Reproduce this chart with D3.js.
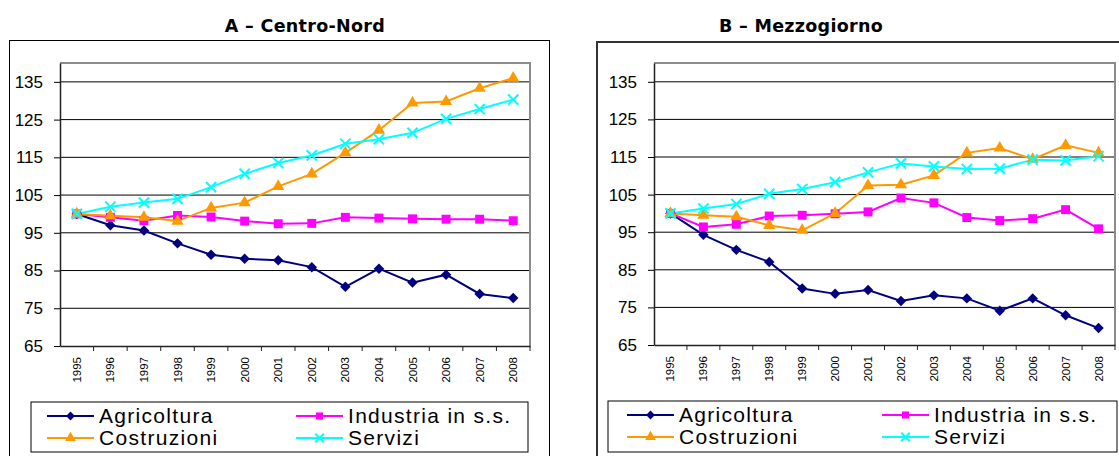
<!DOCTYPE html>
<html>
<head>
<meta charset="utf-8">
<script src="https://cdn.jsdelivr.net/npm/d3@7"></script>
<style>
  html, body { margin: 0; padding: 0; background: #fff; }
  svg { display: block; }
</style>
</head>
<body>
<svg id="chart" width="1119" height="456"></svg>
<script>
// Indici 1995 = 100, due pannelli affiancati (Centro-Nord, Mezzogiorno).
const years = ['1995', '1996', '1997', '1998', '1999', '2000', '2001',
               '2002', '2003', '2004', '2005', '2006', '2007', '2008'];
const yTicks = [65, 75, 85, 95, 105, 115, 125, 135];
const seriesNames = ['Agricoltura', 'Industria in s.s.', 'Costruzioni', 'Servizi'];

const nordAgricoltura = [100, 97.0, 95.6, 92.2, 89.2, 88.1, 87.7, 85.9, 80.7, 85.5, 81.8, 83.9, 78.8, 77.7];
const nordIndustria   = [100, 99.1, 98.2, 99.6, 99.2, 98.1, 97.4, 97.5, 99.1, 98.9, 98.7, 98.6, 98.6, 98.2];
const nordCostruzioni = [100, 99.5, 99.1, 98.1, 101.6, 103.0, 107.3, 110.6, 116.2, 122.2, 129.4, 129.8, 133.3, 136.0];
const nordServizi     = [100, 101.9, 103.0, 104.0, 107.1, 110.6, 113.5, 115.5, 118.6, 119.8, 121.5, 125.2, 127.8, 130.3];

const sudAgricoltura = [100, 94.3, 90.3, 87.1, 80.0, 78.6, 79.6, 76.7, 78.2, 77.4, 74.1, 77.4, 72.9, 69.5];
const sudIndustria   = [100, 96.4, 97.1, 99.3, 99.5, 99.9, 100.4, 104.1, 102.8, 98.9, 98.1, 98.6, 101.0, 95.9];
const sudCostruzioni = [100, 99.5, 99.1, 96.8, 95.5, 100.0, 107.4, 107.6, 110.1, 116.1, 117.4, 114.4, 118.1, 116.1];
const sudServizi     = [100, 101.3, 102.5, 105.2, 106.5, 108.3, 110.9, 113.3, 112.5, 111.8, 111.9, 114.3, 114.1, 115.2];

const colors  = ['#000080', '#ff00ff', '#ff9900', '#00ffff'];
const symbols = [d3.symbolDiamond2, d3.symbolSquare, d3.symbolTriangle, d3.symbolX];

const svg = d3.select('#chart');

// Marker per serie: il quadrato e il triangolo sono pieni, la X solo tratto.
function drawMarker(sel, i, size) {
  const path = d3.symbol().type(symbols[i]).size(size)();
  if (i === 3) {
    sel.append('path').attr('d', path)
        .attr('fill', 'none').attr('stroke', colors[i]).attr('stroke-width', 2);
  } else {
    sel.append('path').attr('d', path).attr('fill', colors[i]);
  }
}

const markerSizes = [70, 80, 65, 70];

function drawPanel(p) {
  const g = svg.append('g');

  g.append('rect')
      .attr('x', p.frame[0]).attr('y', p.frame[1])
      .attr('width', p.frame[2]).attr('height', p.frame[3])
      .attr('fill', 'none')
      .attr('stroke', p.frameColor).attr('stroke-width', p.frameWidth);

  g.append('text')
      .attr('x', p.titleX).attr('y', 32)
      .attr('text-anchor', 'middle')
      .attr('font-family', 'DejaVu Sans, sans-serif')
      .attr('font-weight', 'bold')
      .attr('font-size', '17.5px')
      .attr('letter-spacing', '0.3px')
      .text(p.title);

  const x = d3.scaleBand().domain(years).range([p.left, p.right]);
  const y = d3.scaleLinear().domain([65, 140]).range([p.bottom, p.top]);

  // griglia orizzontale
  g.append('g')
    .selectAll('line')
    .data(yTicks.slice(1))
    .join('line')
      .attr('x1', p.left).attr('x2', p.right)
      .attr('y1', d => y(d)).attr('y2', d => y(d))
      .attr('stroke', '#000').attr('stroke-width', 1);

  // bordo area del grafico
  g.append('path')
      .attr('d', `M${p.left},${p.top}H${p.right}V${p.bottom}`)
      .attr('fill', 'none').attr('stroke', '#8c8c8c').attr('stroke-width', 2);

  const yAxis = g.append('g')
      .attr('transform', `translate(${p.left},0)`)
      .call(d3.axisLeft(y).tickValues(yTicks).tickSize(6).tickPadding(11).tickSizeOuter(0));
  yAxis.select('.domain').attr('stroke', '#222').attr('stroke-width', 1.5);
  yAxis.selectAll('.tick text')
      .attr('font-family', 'Liberation Sans, Arial, sans-serif')
      .attr('font-size', '17px')
      .attr('fill', '#000');

  const xAxis = g.append('g')
      .attr('transform', `translate(0,${p.bottom})`)
      .call(d3.axisBottom(x).tickSize(0).tickSizeOuter(0));
  xAxis.select('.domain').attr('stroke', '#222').attr('stroke-width', 1.5);
  xAxis.selectAll('.tick text')
      .attr('font-family', 'Liberation Sans, Arial, sans-serif')
      .attr('font-size', '11.5px')
      .attr('fill', '#000')
      .attr('text-anchor', 'end')
      .attr('transform', 'rotate(-90)')
      .attr('x', -11).attr('y', 0).attr('dy', '0.35em');

  // tacche tra le categorie
  g.append('g')
    .selectAll('line')
    .data(years)
    .join('line')
      .attr('x1', d => x(d) + x.bandwidth())
      .attr('x2', d => x(d) + x.bandwidth())
      .attr('y1', p.bottom).attr('y2', p.bottom + 5)
      .attr('stroke', '#222');

  const line = d3.line().x((d, i) => x(years[i]) + x.bandwidth() / 2).y(d => y(d));

  p.series.forEach((vals, si) => {
    g.append('path')
        .datum(vals)
        .attr('d', line)
        .attr('fill', 'none')
        .attr('stroke', colors[si])
        .attr('stroke-width', 2);
  });
  p.series.forEach((vals, si) => {
    g.append('g')
      .selectAll('g')
      .data(vals)
      .join('g')
        .attr('transform', (d, i) => `translate(${x(years[i]) + x.bandwidth() / 2},${y(d)})`)
        .each(function() { drawMarker(d3.select(this), si, markerSizes[si]); });
  });

  // legenda
  const L = p.legend;
  g.append('rect')
      .attr('x', L.x).attr('y', L.y).attr('width', L.w).attr('height', L.h)
      .attr('fill', '#fff').attr('stroke', '#000').attr('stroke-width', 1);

  seriesNames.forEach((name, si) => {
    const col = si % 2, row = Math.floor(si / 2);
    const lx = L.x + L.colX[col];
    const ly = L.y + 14 + row * 22;
    const item = g.append('g');
    item.append('line')
        .attr('x1', lx).attr('x2', lx + 47)
        .attr('y1', ly).attr('y2', ly)
        .attr('stroke', colors[si]).attr('stroke-width', 2);
    drawMarker(item.append('g').attr('transform', `translate(${lx + 23.5},${ly})`), si, 50);
    item.append('text')
        .attr('x', lx + 52).attr('y', ly + 7)
        .attr('font-family', 'Liberation Sans, Arial, sans-serif')
        .attr('font-size', '21px')
        .attr('letter-spacing', '1.3px')
        .text(name);
  });
}

drawPanel({
  title: 'A – Centro-Nord',
  titleX: 305,
  frame: [9.5, 40.5, 540, 440], frameColor: '#000', frameWidth: 1,
  left: 60, right: 530, top: 63, bottom: 346,
  series: [nordAgricoltura, nordIndustria, nordCostruzioni, nordServizi],
  legend: { x: 31, y: 402, w: 497, h: 50, colX: [16, 265] }
});

drawPanel({
  title: 'B – Mezzogiorno',
  titleX: 801,
  frame: [597, 42, 540, 440], frameColor: '#333', frameWidth: 2,
  left: 654, right: 1115, top: 63, bottom: 345,
  series: [sudAgricoltura, sudIndustria, sudCostruzioni, sudServizi],
  legend: { x: 608, y: 401, w: 509, h: 51, colX: [19, 274] }
});
</script>
</body>
</html>
